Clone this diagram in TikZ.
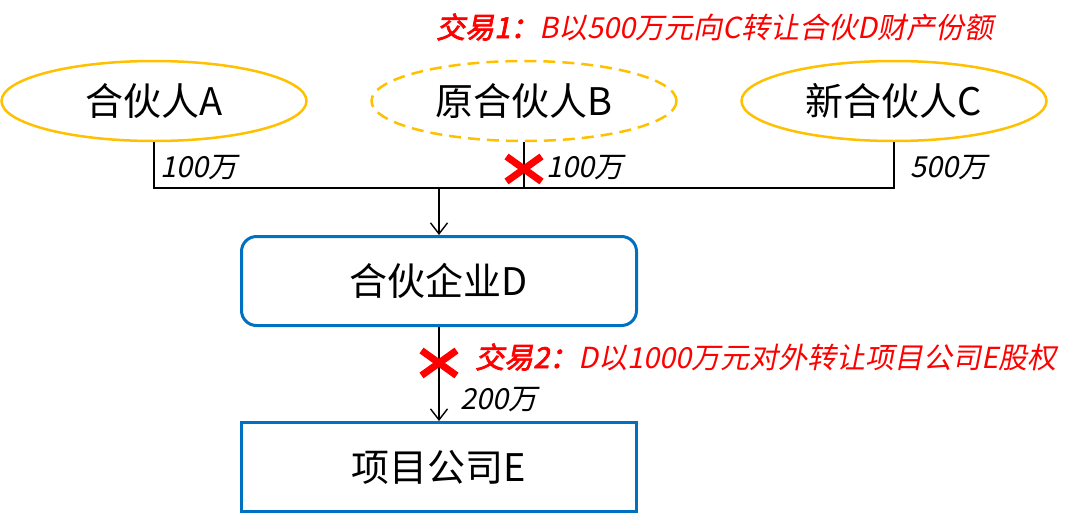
\documentclass[tikz,border=0pt]{standalone}
\usepackage{fontspec}
\setmainfont{Noto Sans CJK SC}[AutoFakeSlant=0.2]
\newfontfamily\dealbold{Noto Sans CJK SC}[FakeSlant=0.2,FakeBold=2.5]
\usepackage{xcolor}
\usepackage{tikz}
\usetikzlibrary{positioning}
\usetikzlibrary{shapes.geometric,shapes.misc,arrows.meta}
\definecolor{gold}{HTML}{FFC000}
\definecolor{boxblue}{HTML}{0070C0}
\tikzset{
    partner/.style={shape=ellipse,draw=gold,line width=2.5pt,minimum width=305pt,minimum height=80pt,inner sep=0,font=\fontsize{38}{38}\selectfont},
    former partner/.style={partner,dash pattern=on 12pt off 7pt},
    entity/.style={shape=rectangle,draw=boxblue,line width=3pt,minimum width=395pt,minimum height=89pt,inner sep=0,font=\fontsize{38}{38}\selectfont},
    link/.style={draw=black,line width=1.4pt},
    flow/.style={link,-{Straight Barb[length=11pt,width=17pt,line width=1.4pt]}},
    amount/.style={anchor=west,inner sep=0,font=\fontsize{29}{29}\selectfont\itshape},
    deal/.style={anchor=west,inner sep=0,text=red,font=\fontsize{29}{29}\selectfont\itshape},
    cancel/.style={shape=cross out,draw=red,line width=7pt,minimum width=28pt,minimum height=18pt,inner sep=0}
}
\begin{document}
\begin{tikzpicture}[x=1pt,y=-1pt]
    \useasboundingbox (0,0) rectangle (1086,517);
    % partners
    \node(A)[partner] at (154,101) {合伙人A};
    \node(B)[former partner] at (524,101) {原合伙人B};
    \node(C)[partner] at (894,101) {新合伙人C};
    % partnership and project company
    \node(D)[entity,rounded corners=15pt] at (439,281) {合伙企业D};
    \node(E)[entity] at (439,467) {项目公司E};
    % contributions
    \coordinate(bus) at (439,188);
    \draw[link] (A.south) -- (A.south |- bus) -- (C.south |- bus) -- (C.south);
    \draw[link] (B.south) -- (B.south |- bus);
    \draw[flow] (bus) -- (D.north);
    \draw[flow] (D.south) -- (E.north);
    \node(xB)[cancel] at (524,169) {};
    \node(xD)[cancel] at (439,363) {};
    \node(mA)[amount] at (160,168) {100万};
    \node(mB)[amount] at (546,168) {100万};
    \node(mC)[amount] at (910,168) {500万};
    \node(mD)[amount] at (460,400) {200万};
    % transactions
    \node(deal1)[deal] at (436,27) {{\dealbold 交易1：}B以500万元向C转让合伙D财产份额};
    \node(deal2)[deal] at (475,357) {{\dealbold 交易2：}D以1000万元对外转让项目公司E股权};
\end{tikzpicture}
\end{document}
